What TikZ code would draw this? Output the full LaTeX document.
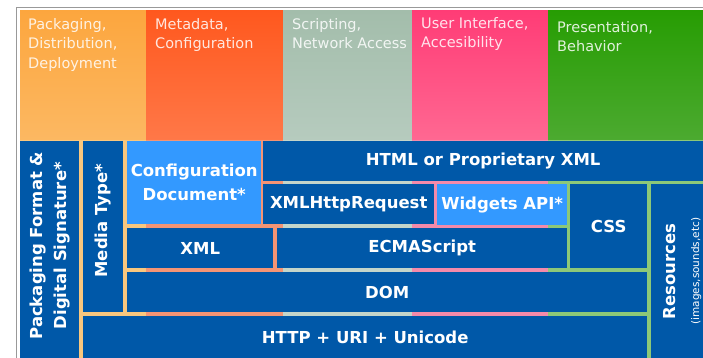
\documentclass[tikz,border=0pt]{standalone}
\usepackage{fontspec}
\setmainfont{DejaVu Sans}
\usetikzlibrary{positioning}

\definecolor{orangetop}{HTML}{FCA63E}
\definecolor{orangebot}{HTML}{FCB862}
\definecolor{orangegap}{HTML}{F9C77E}
\definecolor{redtop}{HTML}{FF581E}
\definecolor{redbot}{HTML}{FF7848}
\definecolor{redgap}{HTML}{F49474}
\definecolor{graytop}{HTML}{A3BDAB}
\definecolor{graybot}{HTML}{B6CBBE}
\definecolor{graygap}{HTML}{C4D5CA}
\definecolor{pinktop}{HTML}{FF3C76}
\definecolor{pinkbot}{HTML}{FF6892}
\definecolor{pinkgap}{HTML}{F48AAA}
\definecolor{greentop}{HTML}{279D03}
\definecolor{greenbot}{HTML}{4CAA30}
\definecolor{greengap}{HTML}{8CC878}
\definecolor{blkdark}{HTML}{0058A8}
\definecolor{blklight}{HTML}{3399FF}

\begin{document}
\begin{tikzpicture}[x=1pt,y=-1pt,
	band/.style={anchor=north west,inner sep=0pt,minimum height=130},
	bandtext/.style={align=left,inner sep=0pt,text=white,text opacity=0.85,font=\fontsize{14.5}{19.5}\selectfont},
	blk/.style={anchor=north west,inner sep=0pt,fill=blkdark,text=white,align=center,font=\fontsize{16.5}{24}\selectfont\bfseries},
	lightblk/.style={blk,fill=blklight},
	sidetext/.style={rotate=90,align=center,text=white,font=\fontsize{16.5}{24}\selectfont\bfseries}]
	\useasboundingbox (0,0) rectangle (703,358);

	% top bands
	\node[band,minimum width=126,top color=orangetop,bottom color=orangebot]	(packaging)	at (20,10)	{};
	\node[band,minimum width=137,top color=redtop,bottom color=redbot]		(metadata)	at (146,10)	{};
	\node[band,minimum width=129,top color=graytop,bottom color=graybot]	(scripting)	at (283,10)	{};
	\node[band,minimum width=136,top color=pinktop,bottom color=pinkbot]	(ui)		at (412,10)	{};
	\node[band,minimum width=155,top color=greentop,bottom color=greenbot]	(presentation)	at (548,10)	{};

	\node[bandtext]	(packagingtxt)		[below right=8pt and 8pt of packaging.north west]	{Packaging,\\Distribution,\\Deployment};
	\node[bandtext]	(metadatatxt)		[below right=8pt and 9pt of metadata.north west]	{Metadata,\\Configuration};
	\node[bandtext]	(scriptingtxt)		[below right=8pt and 9pt of scripting.north west]	{Scripting,\\Network Access};
	\node[bandtext]	(uitxt)				[below right=7pt and 9pt of ui.north west]			{User Interface,\\Accesibility};
	\node[bandtext]	(presentationtxt)	[below right=11pt and 9pt of presentation.north west]	{Presentation,\\Behavior};

	% gap colours under the bands
	\fill[orangegap]	(20,140) rectangle (146,358);
	\fill[redgap]		(146,140) rectangle (283,358);
	\fill[graygap]		(283,140) rectangle (412,358);
	\fill[pinkgap]		(412,140) rectangle (548,358);
	\fill[greengap]		(548,140) rectangle (703,358);

	% blocks
	\node[blk,minimum width=59,minimum height=217]		(pkg)		at (20,141)		{};
	\node[blk,minimum width=40,minimum height=171]		(media)		at (83,141)		{};
	\node[lightblk,minimum width=134,minimum height=83]	(conf)		at (127,141)	{Configuration\\Document*};
	\node[blk,minimum width=440,minimum height=40]		(html)		at (263,141)	{HTML or Proprietary XML};
	\node[blk,minimum width=171,minimum height=40]		(xhr)		at (263,184)	{XMLHttpRequest};
	\node[lightblk,minimum width=130,minimum height=41]	(widgets)	at (437,184)	{Widgets API*};
	\node[blk,minimum width=77,minimum height=84]		(css)		at (570,184)	{CSS};
	\node[blk,minimum width=52,minimum height=174]		(res)		at (651,184)	{};
	\node[blk,minimum width=146,minimum height=40]		(xml)		at (127,228)	{XML};
	\node[blk,minimum width=290,minimum height=40]		(ecma)		at (277,228)	{ECMAScript};
	\node[blk,minimum width=520,minimum height=40]		(dom)		at (127,272)	{DOM};
	\node[blk,minimum width=564,minimum height=42]		(http)		at (83,316)		{HTTP + URI + Unicode};

	\node[sidetext]	(pkgtxt)	at ([yshift=4pt]pkg.center)		{Packaging Format \&\\Digital Signature*};
	\node[sidetext]	(mediatxt)	at ([yshift=6pt]media.center)	{Media Type*};
	\node[sidetext]	(restxt)	at ([xshift=5pt]res.center)		{Resources\\{\fontsize{10.5}{12}\selectfont\mdseries (images,sounds,etc)}};

	% frame
	\draw[black!40,line width=1.2pt] (16.5,358) |- (703,7.5);
\end{tikzpicture}
\end{document}
